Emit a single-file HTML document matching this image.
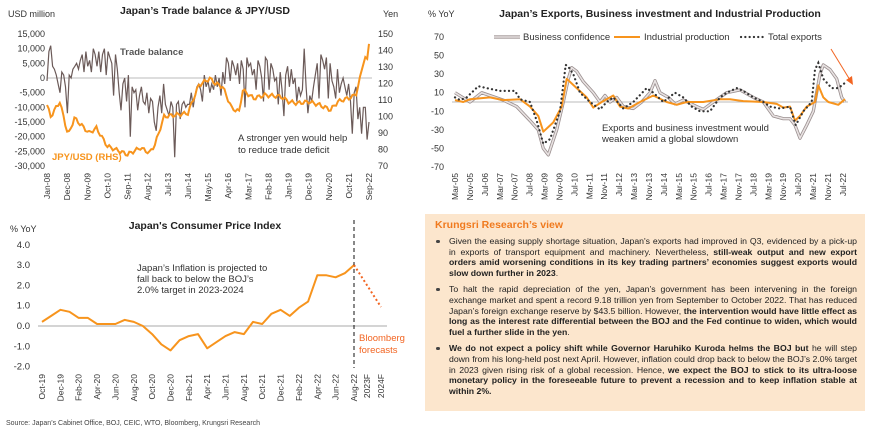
<!DOCTYPE html>
<html><head><meta charset="utf-8">
<style>
body{margin:0;background:#fff;width:870px;height:433px;overflow:hidden;font-family:"Liberation Sans",Arial,sans-serif}
svg{position:absolute;left:0;top:0}
#panel{position:absolute;left:425px;top:214px;width:440px;height:197px;background:#fce6cd;box-sizing:border-box;padding:6px 8px 0 24px;font-family:"Liberation Sans",sans-serif;font-size:8.7px;line-height:10.8px;color:#222;overflow:hidden}
#panel h3{margin:0 0 5px -14px;font-size:10.5px;color:#f07a1e;font-weight:bold}
#panel ul{margin:0;padding:0;list-style:none}
#panel li{position:relative;text-align:justify;margin-bottom:5px}
#panel li:before{content:"";position:absolute;left:-13px;top:4px;width:3.5px;height:3.5px;border-radius:50%;background:#444}
</style></head><body>
<svg id="s" width="870" height="433" font-family="Liberation Sans, sans-serif"></svg>
<div id="panel"><h3>Krungsri Research’s view</h3><ul>
<li>Given the easing supply shortage situation, Japan's exports had improved in Q3, evidenced by a pick-up in exports of transport equipment and machinery. Nevertheless, <b>still-weak output and new export orders amid worsening conditions in its key trading partners’ economies suggest exports would slow down further in 2023</b>.</li>
<li>To halt the rapid depreciation of the yen, Japan’s government has been intervening in the foreign exchange market and spent a record 9.18 trillion yen from September to October 2022. That has reduced Japan’s foreign exchange reserve by $43.5 billion. However, <b>the intervention would have little effect as long as the interest rate differential between the BOJ and the Fed continue to widen, which would fuel a further slide in the yen</b>.</li>
<li><b>We do not expect a policy shift while Governor Haruhiko Kuroda helms the BOJ but</b> he will step down from his long-held post next April. However, inflation could drop back to below the BOJ’s 2.0% target in 2023 given rising risk of a global recession. Hence, <b>we expect the BOJ to stick to its ultra-loose monetary policy in the foreseeable future to prevent a recession and to keep inflation stable at within 2%.</b></li>
</ul></div>
<script>
const S=document.getElementById('s');let h='';
const T=(x,y,t,o)=>{o=o||{};h+=`<text x="${x}" y="${y}" font-size="${o.fs||9}" fill="${o.c||'#333'}" text-anchor="${o.a||'start'}" ${o.b?'font-weight="bold"':''} ${o.r?`transform="rotate(-90 ${x} ${y})"`:''}>${t}</text>`};
const P=(pts,st)=>{h+=`<polyline fill="none" points="${pts.map(p=>p[0].toFixed(1)+','+p[1].toFixed(1)).join(' ')}" ${st}/>`};
function interp(k,x){for(let i=0;i<k.length-1;i++){if(x>=k[i][0]&&x<=k[i+1][0]){const t=(x-k[i][0])/(k[i+1][0]-k[i][0]);return k[i][1]+t*(k[i+1][1]-k[i][1]);}}return k[k.length-1][1];}
// Chart 1
T(8,17,'USD million');T(383,17,'Yen');T(205,14,'Japan’s Trade balance &amp; JPY/USD',{fs:10.5,b:1,a:'middle',c:'#222'});
const ly=v=>78-v/5000*14.67, ry=v=>34+(150-v)*1.65, mx=m=>47+m*322/176;
for(let v=15000;v>=-30000;v-=5000)T(45,ly(v)+3,v.toLocaleString('en-US'),{a:'end'});
for(let v=150;v>=70;v-=10)T(378,ry(v)+3,v);
h+=`<line x1="47" y1="78" x2="372" y2="78" stroke="#bbb" stroke-width="1"/>`;
['Jan-08','Dec-08','Nov-09','Oct-10','Sep-11','Aug-12','Jul-13','Jun-14','May-15','Apr-16','Mar-17','Feb-18','Jan-19','Dec-19','Nov-20','Oct-21','Sep-22'].forEach((l,i)=>{const x=mx(i*11)+3;T(x,173,l,{a:'end',r:1,fs:8.5});});
const tb=[-1,9,11,4,3,1,-2,-5,2,1,-3,-12,1,0,3,4,5,3,6,8,2,9,4,6,2,10,8,4,9,2,8,10,1,9,7,5,-6,8,3,-5,-11,-2,0,-8,1,-20,-3,-5,-4,-11,-6,-3,-8,-9,-5,-12,-7,-8,-15,-18,-10,-6,-12,-2,-9,-11,-13,-8,-10,-27,-9,-8,-14,-9,-8,-10,-9,-9,-5,-10,-6,-3,-2,-4,-8,1,-3,-1,-5,-2,-4,1,-3,0,-6,2,-2,7,5,-1,6,4,1,5,-2,6,3,-10,7,4,5,1,3,-4,6,4,0,-8,7,6,-4,5,3,-1,0,-9,2,-4,-13,1,4,-3,3,-2,0,-8,-3,-6,-4,10,-3,-12,-6,-8,-3,1,5,-7,8,6,3,7,-7,5,-1,-3,-7,3,-5,-2,0,-3,-6,-2,-8,-19,-5,-3,-14,-10,-19,-10,-10,-21,-15];
P(tb.map((v,i)=>[mx(i*176/(tb.length-1)),ly(v*1000)]),'stroke="#6b5a58" stroke-width="1.2"');
const jk=[[0,107],[2,100],[7,109],[11,91],[12,90],[15,99],[23,90],[27,93],[33,82],[44,77],[51,81],[56,78],[59,83],[64,100],[77,102],[83,119],[89,123],[92,120],[96,118],[101,105],[105,103],[107,116],[113,111],[119,113],[128,112],[132,109],[137,108],[143,109],[149,107],[155,104],[159,109],[167,112],[169,114],[170,118],[171,124],[172,128],[173,132],[174,136],[175,135],[176,144]];
const jp=[];for(let m=0;m<=176;m++){jp.push([mx(m),ry(interp(jk,m)+Math.sin(m*1.7)*1.2*(m<170))]);}
P(jp,'stroke="#f7941d" stroke-width="2"');
T(120,55,'Trade balance',{b:1,fs:9.5,c:'#555'});T(52,160,'JPY/USD (RHS)',{b:1,fs:9.5,c:'#f7941d'});
T(238,141,'A stronger yen would help',{fs:9.5});T(238,153,'to reduce trade deficit',{fs:9.5});
// Chart 2
T(428,17,'% YoY');T(660,17,'Japan’s Exports, Business investment and Industrial Production',{fs:10.5,b:1,a:'middle',c:'#222'});
const ey=v=>102-v*0.9286, ex=z=>z/3+420;
for(let v=70;v>=-70;v-=20)T(444,ey(v)+3,v,{a:'end'});
h+=`<line x1="452" y1="102" x2="848" y2="102" stroke="#bbb"/>`;
['Mar-05','Nov-05','Jul-06','Mar-07','Nov-07','Jul-08','Mar-09','Nov-09','Jul-10','Mar-11','Nov-11','Jul-12','Mar-13','Nov-13','Jul-14','Mar-15','Nov-15','Jul-16','Mar-17','Nov-17','Jul-18','Mar-19','Nov-19','Jul-20','Mar-21','Nov-21','Jul-22'].forEach((l,i)=>T(455+i*14.92+3,173,l,{a:'end',r:1,fs:8.5}));
const bc=[[105,10],[150,0],[185,10],[250,2],[290,-5],[330,-20],[355,-30],[370,-50],[385,-57],[410,-30],[430,0],[445,25],[455,37],[470,33],[490,22],[520,10],[540,0],[555,7],[570,0],[590,5],[610,-5],[640,-7],[665,0],[690,10],[705,23],[720,10],[745,5],[765,-2],[790,2],[830,-5],[850,-8],[880,0],[920,10],[960,13],[1000,5],[1030,0],[1060,-15],[1090,-18],[1110,-18],[1125,-25],[1140,-39],[1160,-25],[1180,-10],[1200,30],[1210,40],[1230,35],[1250,25],[1265,5],[1275,0]];
const ip=[[105,2],[130,0],[150,3],[210,5],[250,2],[300,3],[330,-5],[355,-15],[370,-32],[400,-22],[425,-5],[440,25],[470,15],[500,5],[520,-6],[545,0],[580,7],[600,-5],[625,-7],[660,0],[700,7],[740,0],[770,-3],[800,0],[850,0],[900,3],[930,3],[970,1],[1030,0],[1070,-2],[1090,-6],[1110,-5],[1125,-20],[1140,-15],[1160,-5],[1185,0],[1195,18],[1210,5],[1225,0],[1255,-3],[1275,3]];
const te=[[105,5],[120,2],[140,5],[175,17],[200,15],[240,12],[285,12],[300,3],[330,0],[350,-20],[370,-45],[390,-40],[420,-10],[437,40],[445,38],[460,30],[480,10],[510,0],[540,-8],[560,0],[580,5],[610,-7],[640,0],[680,15],[700,10],[730,0],[765,10],[790,5],[815,-5],[840,-10],[870,-10],[900,5],[920,10],[950,15],[970,12],[1000,5],[1030,0],[1050,-5],[1080,-7],[1110,-5],[1127,-25],[1150,-10],[1175,0],[1185,35],[1195,42],[1210,25],[1235,15],[1255,15],[1280,22]];
const m2=k=>k.map(p=>[ex(p[0]),ey(p[1])]);
P(m2(bc),'stroke="#9a8f8f" stroke-width="3.2" stroke-linejoin="round"');P(m2(bc),'stroke="#e8e2e2" stroke-width="1.6" stroke-linejoin="round"');
P(m2(ip),'stroke="#f7941d" stroke-width="2" stroke-linejoin="round"');
P(m2(te),'stroke="#333" stroke-width="2.2" stroke-dasharray="0.1 4.2" stroke-linecap="round"');
h+=`<line x1="494" y1="37" x2="520" y2="37" stroke="#9a8f8f" stroke-width="3.2"/><line x1="494" y1="37" x2="520" y2="37" stroke="#e8e2e2" stroke-width="1.6"/>`;T(523,40,'Business confidence',{fs:9.5});
h+=`<line x1="614" y1="37" x2="640" y2="37" stroke="#f7941d" stroke-width="2"/>`;T(644,40,'Industrial production',{fs:9.5});
h+=`<line x1="741" y1="37" x2="765" y2="37" stroke="#333" stroke-width="2.2" stroke-dasharray="0.1 4.2" stroke-linecap="round"/>`;T(768,40,'Total exports',{fs:9.5});
h+=`<line x1="831" y1="49" x2="850" y2="80" stroke="#f26522" stroke-width="1"/><polygon points="853,85 846,80 852,76" fill="#f26522"/>`;
T(602,131,'Exports and business investment would',{fs:9.5});T(602,142,'weaken amid a global slowdown',{fs:9.5});
// Chart 3
T(10,232,'% YoY');T(205,229,"Japan's Consumer Price Index",{fs:10.5,b:1,a:'middle',c:'#222'});
const cy=v=>326-v*20.3, cx=i=>42+i*9.176;
for(let v=4;v>=-2;v--)T(30,cy(v)+3,v.toFixed(1),{a:'end',fs:9.5});
h+=`<line x1="38" y1="326" x2="387" y2="326" stroke="#bbb" stroke-width="1.3"/>`;
const cpi=[0.2,0.5,0.8,0.7,0.4,0.4,0.1,0.1,0.1,0.3,0.2,0.0,-0.4,-0.9,-1.2,-0.7,-0.5,-0.4,-1.1,-0.8,-0.5,-0.3,-0.4,0.2,0.1,0.6,0.8,0.5,0.9,1.2,2.5,2.5,2.4,2.6,3.0];
['Oct-19','Dec-19','Feb-20','Apr-20','Jun-20','Aug-20','Oct-20','Dec-20','Feb-21','Apr-21','Jun-21','Aug-21','Oct-21','Dec-21','Feb-22','Apr-22','Jun-22','Aug-22'].forEach((l,i)=>T(cx(i*2)+3,374,l,{a:'end',r:1,fs:8.5}));
T(370,374,'2023F',{a:'end',r:1,fs:8.5});T(384,374,'2024F',{a:'end',r:1,fs:8.5});
P(cpi.map((v,i)=>[cx(i),cy(v)]),'stroke="#f7941d" stroke-width="2" stroke-linejoin="round"');
h+=`<line x1="354" y1="220" x2="354" y2="368" stroke="#111" stroke-width="1" stroke-dasharray="4 3"/>`;
h+=`<line x1="354" y1="265" x2="381" y2="307" stroke="#f26522" stroke-width="2" stroke-dasharray="2 2.5"/>`;
T(359,341,'Bloomberg',{fs:9.5,c:'#f26522'});T(359,353,'forecasts',{fs:9.5,c:'#f26522'});
T(137,271,'Japan’s Inflation is projected to',{fs:9.5});T(137,282,'fall back to below the BOJ’s',{fs:9.5});T(137,293,'2.0% target in 2023-2024',{fs:9.5});
T(6,425,'Source: Japan’s Cabinet Office, BOJ, CEIC, WTO, Bloomberg, Krungsri Research',{fs:7,c:'#444'});
S.innerHTML=h;
</script>
</body></html>
